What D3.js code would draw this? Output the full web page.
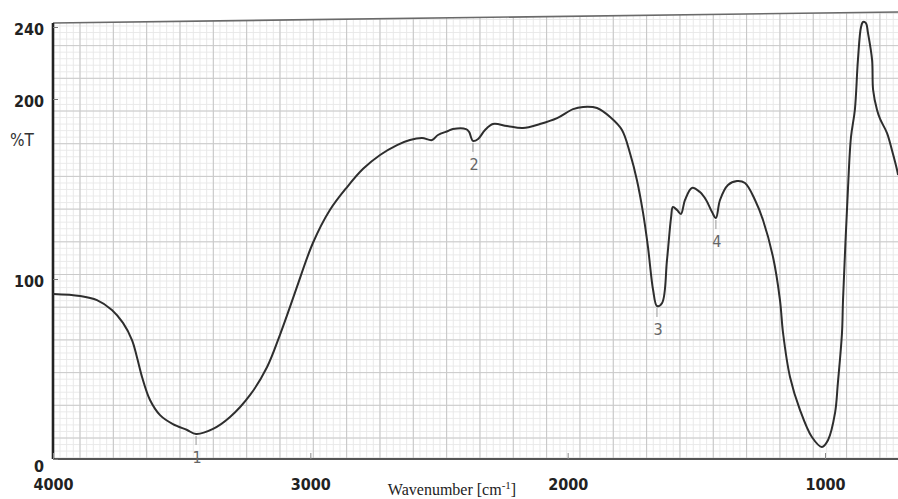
<!DOCTYPE html>
<html>
<head>
<meta charset="utf-8">
<script src="https://cdn.jsdelivr.net/npm/d3@7"></script>
<style>
  body { margin: 0; background: #fff; }
  svg { display: block; }
</style>
</head>
<body>
<svg id="chart" width="898" height="499"></svg>
<script>
// IR transmission spectrum, wavenumber (cm-1) vs %T
const wavenumber = [
  4000, 3895, 3829, 3771, 3728, 3693, 3674, 3654, 3623, 3584, 3534, 3479, 3444,
  3378, 3312, 3234, 3168, 3118, 3079, 3052, 2990, 2924, 2857, 2795, 2729, 2663,
  2613, 2566, 2527, 2504, 2465, 2446, 2395, 2383, 2368, 2348, 2321, 2290, 2236,
  2174, 2108, 2041, 1979, 1940, 1886, 1835, 1789, 1758, 1731, 1707, 1688, 1668,
  1653, 1633, 1614, 1598, 1591, 1575, 1560, 1544, 1517, 1486, 1462, 1439, 1424,
  1408, 1377, 1342, 1311, 1272, 1241, 1202, 1175, 1163, 1136, 1097, 1051, 1012,
  988, 961, 950, 934, 930, 911, 899, 884, 872, 860, 852, 841, 833, 817, 813,
  798, 786, 759, 740, 720, 716
];
const transmittance = [
  91.7, 90.6, 88.3, 82.8, 75.6, 66.1, 56.7, 45.6, 32.8, 24.4, 19.4, 16.1, 13.9,
  16.7, 23.3, 35.6, 51.1, 69.0, 84.5, 95.6, 120.0, 138.3, 151.1, 161.2, 168.9, 174.4,
  177.2, 178.3, 177.2, 180.0, 182.2, 183.3, 183.3, 181.7, 176.7, 177.8, 182.8, 186.1, 185.0,
  183.9, 186.1, 189.4, 194.4, 195.6, 195.0, 190.0, 182.8, 170.0, 155.0, 136.7, 117.8, 93.9,
  85.0, 86.7, 110.6, 134.4, 140.0, 138.3, 136.1, 143.9, 150.6, 148.3, 143.9, 137.2, 133.9,
  143.9, 152.2, 154.4, 153.3, 143.9, 132.8, 112.2, 88.3, 70.0, 45.6, 27.2, 12.2, 6.7,
  10.6, 25.6, 42.2, 70.0, 88.3, 149.4, 178.9, 193.9, 221.7, 240.0, 242.8, 242.2, 236.7, 221.7, 205.0,
  194.0, 188.9, 181.1, 171.7, 160.6, 157.8
];

const xTickValues = [4000, 3000, 2000, 1000];
const yTickValues = [0, 100, 200, 240];

// numbered absorption bands
const peakNumbers = ["1", "2", "3", "4"];
const peakWavenumber = [3444, 2368, 1653, 1424];
const peakTransmittance = [13.9, 176.7, 85.0, 133.9];

const W = 898, H = 499;
const svg = d3.select("#chart");

const x = d3.scaleLinear().domain([4000, 1000]).range([53, 825]);
const y = d3.scaleLinear().domain([0, 240]).range([459, 27]);

const plotLeft = x(4000), plotBottom = y(0);
const frameTopLeft = 23, frameTopRight = 12;

// chart-paper grid, clipped to the slightly skewed frame
svg.append("clipPath").attr("id", "paper")
  .append("polygon")
  .attr("points", [[plotLeft, frameTopLeft], [W, frameTopRight], [W, plotBottom], [plotLeft, plotBottom]].join(" "));

const grid = svg.append("g").attr("clip-path", "url(#paper)");
const vMajorStep = 33.33, vMinorStep = vMajorStep / 5;
const hMajorStep = 32.7, hMinorStep = hMajorStep / 5;
const vOrigin = 80, hOrigin = 438;

const vMinor = d3.range(-4, 130).map(i => vOrigin + i * vMinorStep).filter(p => p > plotLeft && p < W);
const hMinor = d3.range(-3, 70).map(i => hOrigin - i * hMinorStep).filter(p => p < plotBottom && p > 0);
const vMajor = d3.range(0, 26).map(i => vOrigin + i * vMajorStep).filter(p => p < W);
const hMajor = d3.range(0, 14).map(i => hOrigin - i * hMajorStep).filter(p => p > 0);

grid.selectAll(".vmin").data(vMinor).join("line")
  .attr("x1", d => d).attr("x2", d => d).attr("y1", 0).attr("y2", plotBottom)
  .attr("stroke", "#e6e6e6").attr("stroke-width", 0.9);
grid.selectAll(".hmin").data(hMinor).join("line")
  .attr("y1", d => d).attr("y2", d => d).attr("x1", plotLeft).attr("x2", W)
  .attr("stroke", "#e8e8e8").attr("stroke-width", 0.9);
grid.selectAll(".vmaj").data(vMajor).join("line")
  .attr("x1", d => d).attr("x2", d => d).attr("y1", 0).attr("y2", plotBottom)
  .attr("stroke", "#c6c6c6").attr("stroke-width", 1);
grid.selectAll(".hmaj").data(hMajor).join("line")
  .attr("y1", d => d).attr("y2", d => d).attr("x1", plotLeft).attr("x2", W)
  .attr("stroke", "#cacaca").attr("stroke-width", 1);

// top frame edge
svg.append("line")
  .attr("x1", plotLeft).attr("y1", frameTopLeft).attr("x2", W).attr("y2", frameTopRight)
  .attr("stroke", "#6a6a6a").attr("stroke-width", 1.6);

// bottom axis line runs to the right edge
svg.append("line")
  .attr("x1", plotLeft).attr("x2", W).attr("y1", plotBottom).attr("y2", plotBottom)
  .attr("stroke", "#555").attr("stroke-width", 2.2);

const tickFont = "'Liberation Sans Narrow', 'Arial Narrow', 'DejaVu Sans Condensed', sans-serif";

// y axis
const yAxis = svg.append("g")
  .attr("transform", `translate(${plotLeft},0)`)
  .call(d3.axisLeft(y).tickValues(yTickValues).tickSizeInner(-5).tickSizeOuter(0).tickPadding(9));
yAxis.select(".domain").attr("stroke", "#222").attr("stroke-width", 2.6)
  .attr("d", `M0,${frameTopLeft}V${plotBottom}`);
yAxis.selectAll(".tick line").attr("stroke", "#777").attr("stroke-width", 1);
yAxis.selectAll(".tick text")
  .attr("font-family", tickFont).attr("font-weight", "bold").attr("font-size", 16)
  .attr("fill", "#222")
  .attr("dy", d => d === 0 ? "0.75em" : "0.45em");

// x axis
const xAxis = svg.append("g")
  .attr("transform", `translate(0,${plotBottom})`)
  .call(d3.axisBottom(x).tickValues(xTickValues).tickSizeInner(-6).tickSizeOuter(0).tickPadding(20)
    .tickFormat(d3.format("d")));
xAxis.select(".domain").remove();
xAxis.selectAll(".tick line").attr("stroke", "#888").attr("stroke-width", 1);
xAxis.selectAll(".tick text")
  .attr("font-family", tickFont).attr("font-weight", "bold").attr("font-size", 16)
  .attr("fill", "#222");

// axis titles
svg.append("text")
  .attr("x", 22).attr("y", 146)
  .attr("text-anchor", "middle")
  .attr("font-family", tickFont).attr("font-size", 17).attr("fill", "#333")
  .text("%T");

const xt = svg.append("text")
  .attr("x", 452).attr("y", 495)
  .attr("text-anchor", "middle")
  .attr("font-family", "'Liberation Serif', 'Times New Roman', serif")
  .attr("font-size", 16).attr("fill", "#222");
xt.append("tspan").text("Wavenumber [cm");
xt.append("tspan").attr("font-size", 11).attr("dy", -6).text("-1");
xt.append("tspan").attr("dy", 6).text("]");

// spectrum trace
const spectrum = d3.zip(wavenumber, transmittance);
svg.append("path")
  .datum(spectrum)
  .attr("fill", "none")
  .attr("stroke", "#2e2e2e")
  .attr("stroke-width", 2)
  .attr("stroke-linejoin", "round")
  .attr("d", d3.line().x(d => x(d[0])).y(d => y(d[1])).curve(d3.curveCatmullRom.alpha(0.5)));

// band numbers under the absorption minima
const peaks = peakNumbers.map((n, i) => ({ n, w: peakWavenumber[i], t: peakTransmittance[i] }));
const pk = svg.append("g");
pk.selectAll("line").data(peaks).join("line")
  .attr("x1", d => x(d.w)).attr("x2", d => x(d.w))
  .attr("y1", d => y(d.t) + 2).attr("y2", d => y(d.t) + 11)
  .attr("stroke", "#999").attr("stroke-width", 1);
pk.selectAll("text").data(peaks).join("text")
  .attr("x", d => x(d.w) + 1).attr("y", d => y(d.t) + 29)
  .attr("text-anchor", "middle")
  .attr("font-family", tickFont).attr("font-size", 16).attr("fill", "#666")
  .text(d => d.n);
</script>
</body>
</html>
